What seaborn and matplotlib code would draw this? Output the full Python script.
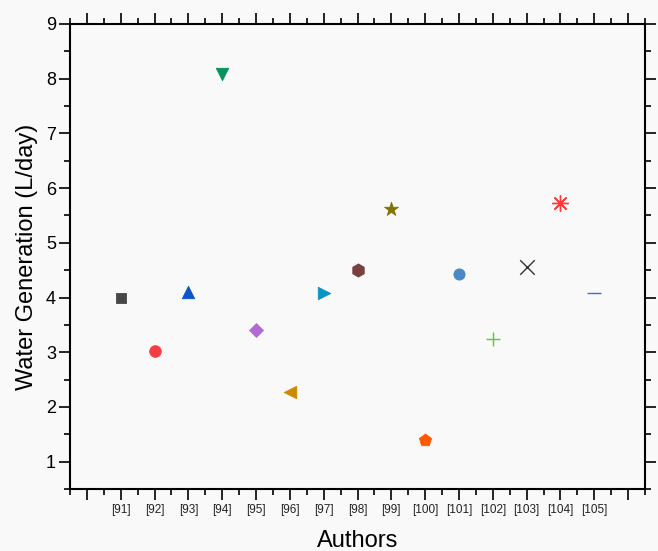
import numpy as np
import pandas as pd
import matplotlib
matplotlib.use("Agg")
import matplotlib.pyplot as plt
import seaborn as sns
from matplotlib.ticker import MultipleLocator, FixedLocator

# Data
refs = [91, 92, 93, 94, 95, 96, 97, 98, 99, 100, 101, 102, 103, 104, 105]
water = [4.00, 3.02, 4.10, 8.08, 3.41, 2.28, 4.08, 4.50, 5.62, 1.40, 4.43, 3.25, 4.56, 5.72, 4.08]
markers = ["s", "o", "^", "v", "D", "<", ">", "h", "*", "p", "o", "+", "x", (8, 2, 0), "_"]
colors = ["#474747", "#F23F3F", "#0A55C8", "#04935C", "#B36AD6", "#CC8A00", "#0B93C4",
          "#7A4040", "#807300", "#FF5A00", "#4A88C8", "#5ACD2A", "#333333", "#FF3B3B", "#3A6FD8"]
sizes = [55, 70, 80, 80, 50, 80, 80, 90, 110, 85, 65, 110, 110, 130, 110]

sns.set_style("ticks")
plt.rcParams["font.family"] = ["Liberation Sans", "DejaVu Sans"]

BG = "#F9F9F9"
fig = plt.figure(figsize=(6.58, 5.51), dpi=100, facecolor=BG)
ax = fig.add_axes([70 / 658, 62 / 551, 575 / 658, 465 / 551])
ax.set_facecolor(BG)

df = pd.DataFrame({"ref": refs, "water": water})
for i, row in df.iterrows():
    m = markers[i]
    lined = m in ["+", "x", "_"] or isinstance(m, tuple)
    sns.scatterplot(x=[row["ref"]], y=[row["water"]], marker=m, s=sizes[i],
                    color=colors[i], edgecolor=None if lined else colors[i],
                    linewidth=1.0 if lined else 0.6, ax=ax, legend=False, zorder=3)

ax.set_xlim(89.5, 106.5)
ax.set_ylim(0.5, 9)

ax.xaxis.set_major_locator(FixedLocator(list(range(90, 107))))
ax.set_xticklabels([""] + [f"[{r}]" for r in refs] + [""])
ax.xaxis.set_minor_locator(MultipleLocator(0.5))
ax.yaxis.set_major_locator(MultipleLocator(1))
ax.yaxis.set_minor_locator(MultipleLocator(0.5))
ax.set_yticks(range(1, 10))

for s in ax.spines.values():
    s.set_visible(True)
    s.set_linewidth(1.5)
    s.set_color("black")

ax.tick_params(which="major", direction="out", length=8, width=1.2, color="black",
               top=True, right=True, bottom=True, left=True)
ax.tick_params(which="minor", direction="out", length=4, width=1.2, color="black",
               top=True, right=True, bottom=True, left=True)
ax.tick_params(axis="y", labelsize=13, pad=2, labelcolor="black")
ax.tick_params(axis="x", labelsize=8.5, pad=3, labelcolor="#222222")

ax.set_xlabel("Authors", fontsize=17, labelpad=10, color="black")
ax.set_ylabel("Water Generation (L/day)", fontsize=17, labelpad=6, color="black")

fig.savefig("out.png", dpi=100, facecolor=BG)
